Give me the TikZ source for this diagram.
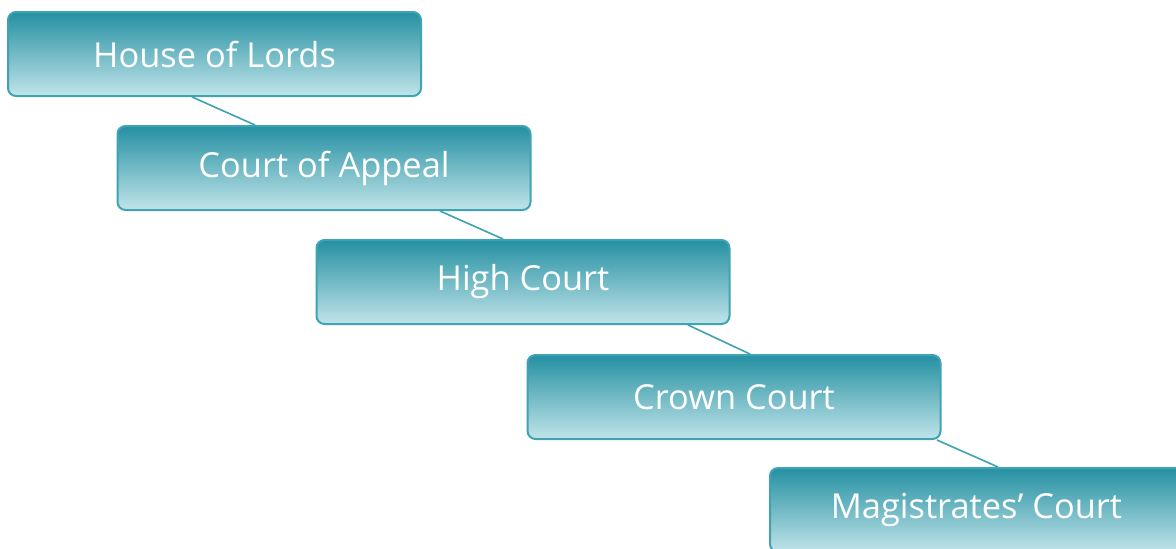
\documentclass[tikz,border=0pt]{standalone}
\usepackage{fontspec}
\setmainfont{Open Sans}
\usepackage{tikz}

\definecolor{tealtop}{HTML}{2590A2}
\definecolor{tealbot}{HTML}{C0E4E9}
\definecolor{tealline}{HTML}{3FA3B4}

\tikzset{
  court/.style={draw=tealline, line width=1pt, rounded corners=4pt,
    top color=tealtop, bottom color=tealbot, shading angle=0,
    minimum width=206.5pt, minimum height=42pt,
    text=white, font=\fontsize{17.2}{20}\selectfont},
  link/.style={draw=tealline, line width=0.8pt}
}

\begin{document}
\begin{tikzpicture}[x=0.5pt,y=-0.5pt]
\path[use as bounding box, clip] (0,0) rectangle (1176,548);
\fill[white] (0,0) rectangle (1176,548);

\node[court] (lords) at (214.5,54) {House of Lords};
\node[court] (appeal) at (324,168) {Court of Appeal};
\node[court] (high) at (523,282) {High Court};
\node[court] (crown) at (734,397) {Crown Court};
\node[court] (magis) at (976.5,510) {Magistrates’ Court};

\draw[link] (192,0 |- lords.south) -- (255,0 |- appeal.north);
\draw[link] (440,0 |- appeal.south) -- (503,0 |- high.north);
\draw[link] (688,0 |- high.south) -- (750,0 |- crown.north);
\draw[link] (937,0 |- crown.south) -- (998,0 |- magis.north);
\end{tikzpicture}
\end{document}
